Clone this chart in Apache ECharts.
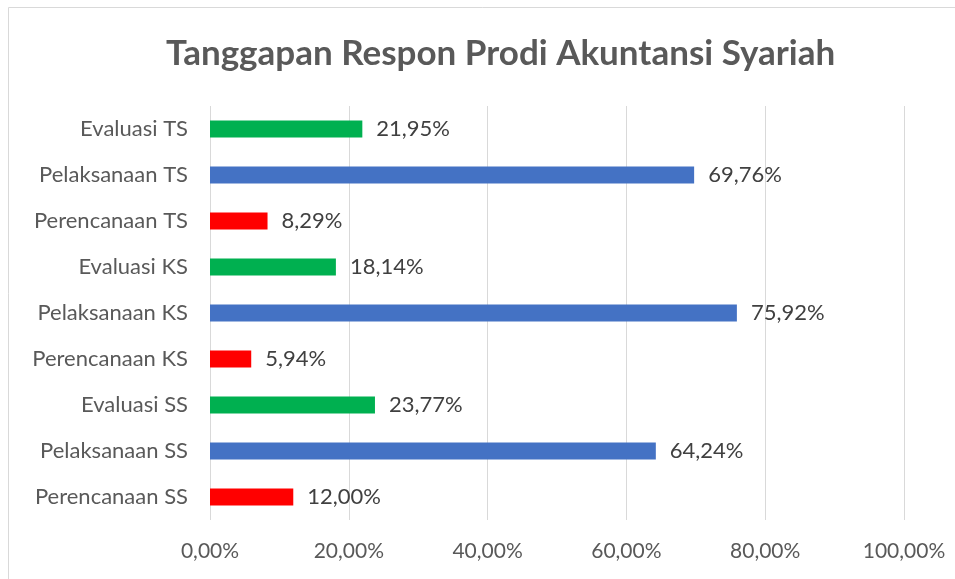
<!DOCTYPE html>
<html>
<head>
<meta charset="utf-8">
<script src="https://cdn.jsdelivr.net/npm/echarts@6/dist/echarts.min.js"></script>
<style>
html,body{margin:0;padding:0;background:#fff;}
#chart{width:955px;height:579px;}
</style>
</head>
<body>
<div id="chart"></div>
<script>
// urutan dari bawah ke atas (kategori ECharts)
var categories = ['Perencanaan SS', 'Pelaksanaan SS', 'Evaluasi SS',
                  'Perencanaan KS', 'Pelaksanaan KS', 'Evaluasi KS',
                  'Perencanaan TS', 'Pelaksanaan TS', 'Evaluasi TS'];
var values = [12.00, 64.24, 23.77, 5.94, 75.92, 18.14, 8.29, 69.76, 21.95];
var xTicks = [0, 20, 40, 60, 80, 100];

var warna = {Perencanaan: '#FF0000', Pelaksanaan: '#4472C4', Evaluasi: '#00B050'};

function pct(v){
	return v.toFixed(2).replace('.', ',') + '%';
}

var dom = document.getElementById('chart');
var myChart = echarts.init(dom);
var font = 'Lato, "Open Sans", sans-serif';

var option = {
	animation: false,
	title: {
		text: 'Tanggapan Respon Prodi Akuntansi Syariah',
		left: 161,
		top: 31,
		textStyle: {fontFamily: font, fontSize: 35, fontWeight: 'bold', color: '#595959'}
	},
	graphic: [{
		type: 'rect',
		shape: {x: 8.5, y: 7.5, width: 1000, height: 1000},
		style: {fill: 'none', stroke: '#D9D9D9', lineWidth: 1}
	}],
	grid: {left: 210, right: 51, top: 106, bottom: 59, containLabel: false},
	xAxis: {
		type: 'value',
		min: xTicks[0],
		max: xTicks[xTicks.length - 1],
		interval: 20,
		axisLine: {show: false},
		axisTick: {show: false},
		splitLine: {show: true, lineStyle: {color: '#D9D9D9', width: 1}},
		axisLabel: {
			margin: 21,
			fontFamily: font, fontSize: 21, color: '#595959',
			formatter: function(v){ return pct(v); }
		}
	},
	yAxis: {
		type: 'category',
		data: categories,
		axisLine: {show: false},
		axisTick: {show: false},
		axisLabel: {margin: 22, fontFamily: font, fontSize: 22, color: '#595959'}
	},
	series: [{
		type: 'bar',
		barWidth: 17,
		data: values.map(function(v, i){
			return {value: v, itemStyle: {color: warna[categories[i].split(' ')[0]]}};
		}),
		label: {
			show: true,
			position: 'right',
			distance: 14,
			fontFamily: font, fontSize: 22, color: '#404040',
			formatter: function(p){ return pct(p.value); }
		}
	}]
};
myChart.setOption(option);
</script>
</body>
</html>
